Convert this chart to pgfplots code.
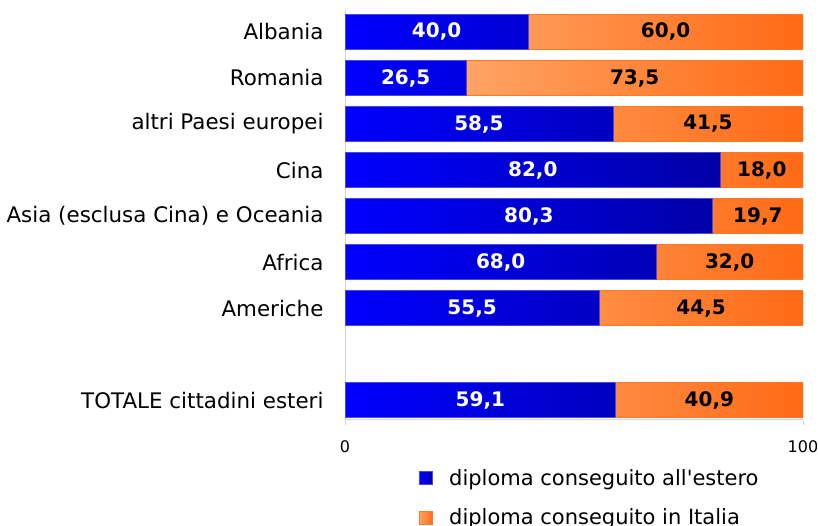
\documentclass[border=0pt]{standalone}
\usepackage{pgfplots}
\pgfplotsset{compat=1.18}
\usepackage{pgfplotstable}
\usepackage{fontspec}
\setmainfont{DejaVu Sans}
\definecolor{bluL}{HTML}{0000FF}
\definecolor{bluR}{HTML}{0000A6}
\definecolor{bluB}{HTML}{4A4AE0}
\definecolor{oraL}{HTML}{FFA464}
\definecolor{oraR}{HTML}{FF6A14}
\definecolor{oraB}{HTML}{FF7A26}
\definecolor{axgray}{HTML}{D4D4D4}

% pos: row of the bar (TOTALE at the bottom, a gap above it)
\pgfplotstableread{
pos estero italia midE midI
8 40.0 60.0 20.00 70.00
7 26.5 73.5 13.25 63.25
6 58.5 41.5 29.25 79.25
5 82.0 18.0 41.00 91.00
4 80.3 19.7 40.15 90.15
3 68.0 32.0 34.00 84.00
2 55.5 44.5 27.75 77.75
0 59.1 40.9 29.55 79.55
}\data

\pgfplotsset{
  base/.style={
    at={(345pt,106pt)}, anchor=south west,
    scale only axis, width=458pt, height=410pt,
    xmin=0, xmax=100, ymin=-0.43, ymax=8.478,
    /pgf/number format/assume math mode=true,
  },
  vlabel/.style={nodes near coords style={anchor=center, #1,
    font=\bfseries\fontsize{20}{24}\selectfont,
    /pgf/number format/.cd, fixed, fixed zerofill, precision=1, use comma,
    assume math mode=true}},
}

\begin{document}
\begin{tikzpicture}
\path[use as bounding box] (0,0) rectangle (818pt,526pt);
\begin{axis}[
  base,
  xbar stacked, bar width=35pt,
  axis x line*=bottom, axis y line*=left,
  axis line style={axgray, line width=1pt},
  xtick={0,100},
  x tick label style={font=\fontsize{16}{19}\selectfont, yshift=-12pt},
  major tick length=5pt,
  xtick align=outside,
  x tick style={axgray, line width=1pt},
  ytick={8,7,6,5,4,3,2,0},
  yticklabels={Albania, Romania, altri Paesi europei, Cina,
    Asia (esclusa Cina) e Oceania, Africa, Americhe, TOTALE cittadini esteri},
  y tick style={draw=none},
  y tick label style={font=\fontsize{21.4}{25}\selectfont, xshift=-18pt},
  legend style={at={(0.162,-0.115)}, anchor=north west, draw=none, fill=none,
    font=\fontsize{21}{25}\selectfont, row sep=18pt, inner sep=0pt},
  legend cell align=left,
  legend image code/.code={\draw[#1] (0pt,-6.5pt) rectangle (13pt,6.5pt);
    \path (27pt,0pt);},
]
\addplot[left color=bluL, right color=bluR, draw=bluB, line width=0.6pt]
  table[x=estero, y=pos] {\data};
\addlegendentry{diploma conseguito all\textquotesingle estero}
\addplot[left color=oraL, right color=oraR, draw=oraB, line width=0.8pt]
  table[x=italia, y=pos] {\data};
\addlegendentry{diploma conseguito in Italia}
\end{axis}
% value labels, centred in each segment
\begin{axis}[base, hide axis]
\addplot[draw=none, mark=none, nodes near coords, point meta=explicit, vlabel=white]
  table[x=midE, y=pos, meta=estero] {\data};
\addplot[draw=none, mark=none, nodes near coords, point meta=explicit, vlabel=black]
  table[x=midI, y=pos, meta=italia] {\data};
\end{axis}
\end{tikzpicture}
\end{document}
